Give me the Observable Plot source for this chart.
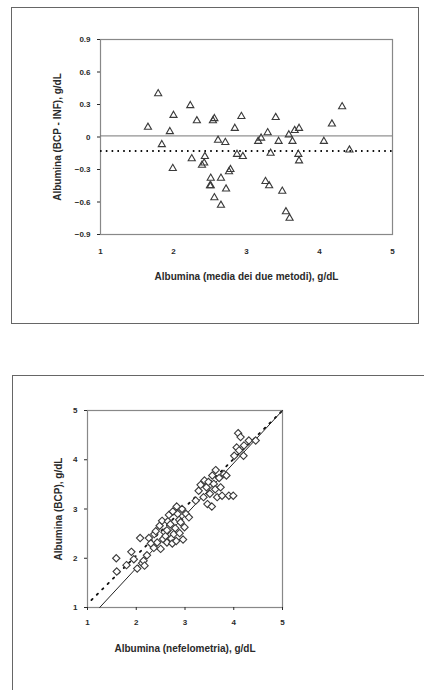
<!DOCTYPE html>
<html>
<head>
<meta charset="utf-8">
<script src="https://cdn.jsdelivr.net/npm/d3@7"></script>
<script src="https://cdn.jsdelivr.net/npm/@observablehq/plot@0.6"></script>
<style>
  html, body { margin: 0; padding: 0; background: #fff; }
  body { width: 424px; height: 690px; position: relative; overflow: hidden; font-family: "Liberation Sans", Arial, sans-serif; }
  .box { position: absolute; border: 1.5px solid #666; box-sizing: border-box; }
  #top, #bottom { position: absolute; left: 0; }
  #top { top: 0; }
  #bottom { top: 340px; }
</style>
</head>
<body>
<div class="box" style="left:11px; top:7px; width:408px; height:317px;"></div>
<div class="box" style="left:12px; top:375px; width:430px; height:340px;"></div>
<div id="top"></div>
<div id="bottom"></div>
<script>
// ---- Top panel (Bland-Altman): mean of two methods vs difference ----
const meanVals = [1.65,1.79,1.84,1.95,2.00,1.99,2.23,2.32,2.25,2.39,2.43,2.42,2.54,2.56,2.51,2.51,2.50,2.56,2.65,2.61,2.71,2.65,2.72,2.76,2.78,2.84,2.93,2.87,2.95,3.16,3.20,3.29,3.33,3.40,3.44,3.26,3.31,3.49,3.54,3.59,3.58,3.63,3.66,3.72,3.71,3.72,4.06,4.17,4.31,4.41];
const diffVals = [0.09,0.40,-0.07,0.05,0.20,-0.29,0.29,0.15,-0.20,-0.26,-0.18,-0.24,0.15,0.17,-0.38,-0.45,-0.45,-0.56,-0.63,-0.03,-0.05,-0.38,-0.48,-0.32,-0.30,0.08,0.19,-0.16,-0.18,-0.04,-0.01,0.04,-0.15,0.18,-0.04,-0.41,-0.45,-0.50,-0.69,-0.75,0.02,-0.04,0.06,0.08,-0.16,-0.22,-0.04,0.12,0.28,-0.12];
const zeroLine = [0.01];
const biasLine = [-0.13];
const topXTicks = [1,2,3,4,5];
const topYTicks = [-0.9,-0.6,-0.3,0,0.3,0.6,0.9];
const topXLabel = "Albumina (media dei due metodi), g/dL";
const topYLabel = "Albumina (BCP - INF), g/dL";

// ---- Bottom panel: nephelometry vs BCP ----
const nephVals = [1.59,1.60,1.80,1.90,1.95,2.02,2.08,2.12,2.15,2.17,2.22,2.26,2.30,2.36,2.37,2.40,2.43,2.48,2.50,2.53,2.55,2.58,2.60,2.63,2.63,2.65,2.67,2.70,2.72,2.74,2.75,2.77,2.80,2.82,2.83,2.85,2.88,2.89,2.91,2.94,2.96,2.99,3.02,3.08,3.22,3.28,3.32,3.38,3.40,3.44,3.46,3.48,3.51,3.55,3.56,3.59,3.62,3.63,3.66,3.70,3.73,3.76,3.80,3.85,3.90,3.99,4.01,4.06,4.09,4.11,4.14,4.20,4.21,4.31,4.45];
const bcpVals  = [2.00,1.73,1.86,2.13,1.98,1.79,2.41,1.90,1.95,1.85,2.06,2.41,2.30,2.21,2.49,2.55,2.32,2.66,2.19,2.76,2.39,2.53,2.45,2.32,2.57,2.75,2.88,2.69,2.40,2.30,2.95,2.49,2.61,2.35,3.05,2.90,2.78,2.51,2.73,3.00,2.38,2.63,2.90,2.83,3.17,3.37,3.49,3.24,3.58,3.44,3.10,3.55,3.31,3.05,3.68,3.51,3.40,3.79,3.24,3.63,3.44,3.27,3.71,3.68,3.27,3.27,4.08,4.25,4.54,4.19,4.46,4.08,4.29,4.39,4.39];
const solidLineX = [1.25, 5];
const solidLineY = [1, 5];
const dottedLineX = [1.08, 5];
const dottedLineY = [1.15, 5];
const botTicks = [1,2,3,4,5];
const botXLabel = "Albumina (nefelometria), g/dL";
const botYLabel = "Albumina (BCP), g/dL";

const ink = "#2a2a2a";
const baseStyle = {fontFamily: "'Liberation Sans', Arial, sans-serif", fontWeight: "bold", fontSize: "8px", color: ink, background: "transparent", overflow: "visible"};
const yFmt = d => d === 0 ? "0" : d3.format(".1f")(d);

const baData = meanVals.map((m, i) => ({mean: m, diff: diffVals[i]}));

const topPlot = Plot.plot({
  width: 424, height: 330,
  marginLeft: 100, marginRight: 32, marginTop: 39, marginBottom: 96,
  style: baseStyle,
  x: {domain: [1, 5]},
  y: {domain: [-0.9, 0.9]},
  marks: [
    Plot.frame({stroke: "#888", strokeWidth: 1.2}),
    Plot.axisX({ticks: topXTicks, tickFormat: d3.format("d"), tickSize: 0, tickPadding: 14, label: null}),
    Plot.axisX({ticks: [], label: topXLabel, labelArrow: "none", labelAnchor: "center", labelOffset: 45, fontSize: 10, fontWeight: "bold"}),
    Plot.axisY({ticks: topYTicks, tickFormat: yFmt, tickSize: 3, tickPadding: 7, label: null}),
    Plot.axisY({ticks: [], label: topYLabel, labelArrow: "none", labelAnchor: "center", labelOffset: 47, fontSize: 10, fontWeight: "bold"}),
    Plot.ruleY(zeroLine, {stroke: "#777", strokeWidth: 1}),
    Plot.ruleY(biasLine, {stroke: "#111", strokeWidth: 2, strokeDasharray: "1.6,4.2"}),
    Plot.dot(baData, {x: "mean", y: "diff", symbol: "triangle2", r: 3.4, stroke: "#3a3a3a", strokeWidth: 1.1, fill: "white", fillOpacity: 0})
  ]
});
document.getElementById("top").append(topPlot);

const scData = nephVals.map((n, i) => ({neph: n, bcp: bcpVals[i]}));
const solidLine = solidLineX.map((x, i) => ({x, y: solidLineY[i]}));
const dottedLine = dottedLineX.map((x, i) => ({x, y: dottedLineY[i]}));

const botPlot = Plot.plot({
  width: 424, height: 350,
  marginLeft: 87, marginRight: 142, marginTop: 70, marginBottom: 83,
  style: baseStyle,
  x: {domain: [1, 5]},
  y: {domain: [1, 5]},
  marks: [
    Plot.frame({stroke: "#888", strokeWidth: 1.2}),
    Plot.axisX({ticks: botTicks, tickFormat: d3.format("d"), tickSize: 3, tickPadding: 9, label: null}),
    Plot.axisX({ticks: [], label: botXLabel, labelArrow: "none", labelAnchor: "center", labelOffset: 44, fontSize: 10, fontWeight: "bold"}),
    Plot.axisY({ticks: botTicks, tickFormat: d3.format("d"), tickSize: 3, tickPadding: 7, label: null}),
    Plot.axisY({ticks: [], label: botYLabel, labelArrow: "none", labelAnchor: "center", labelOffset: 33, fontSize: 10, fontWeight: "bold"}),
    Plot.line(dottedLine, {x: "x", y: "y", stroke: "#111", strokeWidth: 1.8, strokeDasharray: "1.6,6"}),
    Plot.line(solidLine, {x: "x", y: "y", stroke: "#222", strokeWidth: 1}),
    Plot.dot(scData, {x: "neph", y: "bcp", symbol: "diamond2", r: 3.3, stroke: "#3a3a3a", strokeWidth: 1.1, fill: "white"})
  ]
});
document.getElementById("bottom").append(botPlot);
</script>
</body>
</html>
